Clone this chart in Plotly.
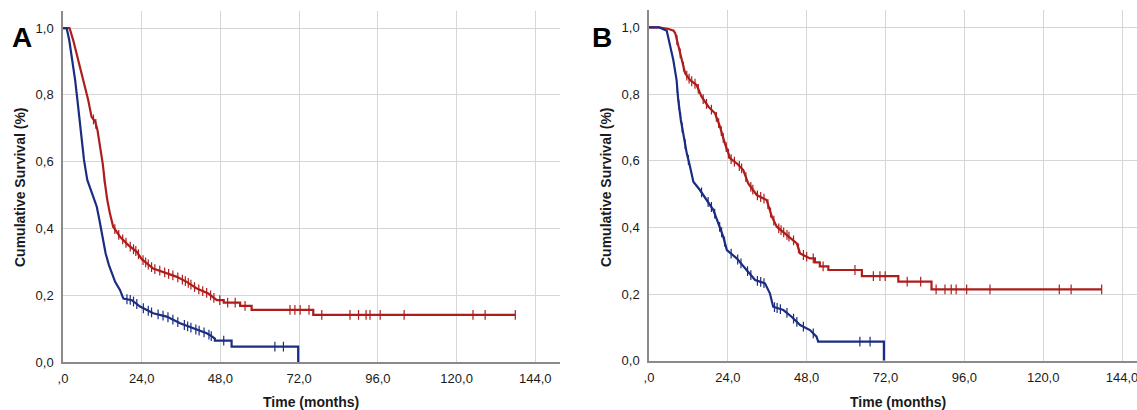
import numpy as np
import plotly.graph_objects as go

# ---------------- Data ----------------
# Panel A: curve vertices (time in months, cumulative survival)
a_red_t = [0, 2.0, 3.1, 4.7, 6.2, 7.7, 8.7, 9.8, 10.5, 11.3, 12.1, 12.8, 13.5, 14.3, 15.3, 17.4,
           19.9, 22.5, 24.0, 27.5, 30.6, 34.7, 37.7, 40.8, 44.3, 46.9, 49.0, 49.0, 54.0, 54.0,
           57.5, 57.5, 76.3, 76.3, 137.9]
a_red_s = [1.0, 1.0, 0.964, 0.904, 0.844, 0.784, 0.734, 0.72, 0.695, 0.645, 0.595, 0.535, 0.485,
           0.445, 0.405, 0.375, 0.35, 0.33, 0.308, 0.28, 0.27, 0.255, 0.24, 0.22, 0.205, 0.185,
           0.185, 0.178, 0.178, 0.168, 0.168, 0.156, 0.156, 0.141, 0.141]
a_red_cens = [9.3, 10.0, 12.6, 15.8, 17.0, 18.2, 19.2, 20.5, 21.5, 22.2, 23.0, 24.4, 25.2, 26.0,
              27.0, 28.0, 29.5, 31.0, 32.2, 33.5, 35.0, 36.4, 37.3, 38.2, 39.0, 40.1, 41.4, 42.6,
              43.8, 45.0, 46.0, 47.8, 50.2, 52.5, 55.5, 69.2, 70.7, 72.3, 75.0, 78.9, 87.5, 90.1,
              92.4, 93.6, 96.7, 104.0, 125.0, 128.7, 137.9]

a_blue_t = [0, 1.1, 1.9, 2.9, 3.7, 4.4, 5.0, 5.6, 6.4, 7.4, 8.9, 10.3, 11.1, 12.0, 13.0, 14.0,
            15.9, 17.4, 18.4, 21.0, 23.5, 27.5, 31.6, 35.7, 39.7, 43.8, 45.5, 46.3, 46.3, 51.4,
            51.4, 71.7, 71.7]
a_blue_s = [1.0, 1.0, 0.964, 0.904, 0.844, 0.784, 0.725, 0.665, 0.605, 0.545, 0.505, 0.465, 0.425,
            0.375, 0.325, 0.29, 0.24, 0.215, 0.19, 0.185, 0.166, 0.146, 0.136, 0.116, 0.1, 0.086,
            0.076, 0.07, 0.064, 0.064, 0.046, 0.046, 0.0]
a_blue_cens = [19.5, 20.5, 21.5, 22.5, 24.5, 26.0, 27.0, 29.0, 30.5, 32.0, 33.5, 35.0, 37.0, 38.0,
               39.0, 40.5, 41.5, 43.0, 44.5, 45.2, 49.0, 64.6, 67.2]

# Panel B
b_red_t = [0, 3.0, 6.0, 7.5, 8.0, 9.0, 10.0, 11.0, 12.5, 14.5, 16.0, 18.1, 20.1, 21.6, 23.1, 24.7,
           26.7, 28.7, 30.2, 32.8, 35.8, 37.4, 38.9, 41.4, 43.5, 45.0, 46.0, 49.0, 50.5, 50.5,
           52.0, 52.0, 54.6, 54.6, 64.8, 64.8, 75.9, 75.9, 86.0, 86.0, 137.8]
b_red_s = [1.0, 1.0, 0.995, 0.99, 0.982, 0.942, 0.902, 0.862, 0.842, 0.827, 0.792, 0.762, 0.742,
           0.702, 0.652, 0.607, 0.592, 0.572, 0.532, 0.497, 0.482, 0.432, 0.402, 0.382, 0.365,
           0.352, 0.322, 0.307, 0.307, 0.295, 0.295, 0.283, 0.283, 0.272, 0.272, 0.254, 0.254,
           0.237, 0.237, 0.214, 0.214]
b_red_cens = [8.5, 9.5, 10.5, 11.5, 12.2, 13.0, 14.0, 15.0, 16.5, 17.5, 19.0, 20.5, 21.2, 22.0,
              22.6, 23.5, 24.2, 25.0, 26.0, 27.5, 28.2, 29.5, 31.0, 31.6, 33.0, 34.0, 35.0, 36.2,
              37.0, 38.0, 39.5, 40.2, 41.0, 42.0, 42.6, 44.0, 45.5, 47.0, 48.0, 50.0, 53.0, 62.7,
              68.3, 70.3, 71.9, 78.6, 82.7, 87.4, 90.1, 92.0, 93.5, 96.7, 103.8, 124.9, 128.5, 137.8]

b_blue_t = [0, 3.0, 5.4, 6.4, 7.4, 8.4, 8.9, 9.7, 10.4, 11.5, 12.5, 13.5, 15.5, 17.6, 19.6, 21.1,
            22.6, 23.7, 26.7, 29.7, 32.3, 35.3, 36.8, 37.8, 40.9, 43.4, 46.0, 49.0, 51.0, 51.5,
            71.5, 71.5]
b_blue_s = [1.0, 1.0, 0.99, 0.942, 0.902, 0.842, 0.782, 0.722, 0.682, 0.622, 0.582, 0.537, 0.512,
            0.482, 0.452, 0.412, 0.372, 0.332, 0.307, 0.272, 0.242, 0.232, 0.202, 0.162, 0.152,
            0.132, 0.107, 0.092, 0.072, 0.057, 0.057, 0.0]
b_blue_cens = [8.6, 9.1, 9.6, 10.1, 11.0, 12.0, 16.0, 18.0, 19.0, 20.0, 21.5, 22.1, 23.0, 25.0,
               27.0, 28.0, 30.0, 31.0, 33.0, 34.0, 35.0, 38.2, 39.0, 40.0, 42.0, 44.0, 45.0, 47.0,
               50.0, 64.2, 67.3]

x_tickvals = [0, 24, 48, 72, 96, 120, 144]
x_ticktext = [",0", "24,0", "48,0", "72,0", "96,0", "120,0", "144,0"]
y_tickvals = [0, 0.2, 0.4, 0.6, 0.8, 1.0]
y_ticktext = ["0,0", "0,2", "0,4", "0,6", "0,8", "1,0"]

RED = "#ae1c1c"
BLUE = "#1b2d82"

W, H = 1137, 410
fig = go.Figure()


def add_curve(t, s, cens, color, xa, ya):
    fig.add_trace(go.Scatter(x=t, y=s, mode="lines", line=dict(color=color, width=2.2),
                             xaxis=xa, yaxis=ya, showlegend=False, hoverinfo="skip"))
    cy = np.interp(np.array(cens, float), np.array(t, float), np.array(s, float))
    fig.add_trace(go.Scatter(x=cens, y=cy, mode="markers", xaxis=xa, yaxis=ya,
                             marker=dict(symbol="line-ns-open", size=7, color=color,
                                         line=dict(width=1.2, color=color)),
                             showlegend=False, hoverinfo="skip"))


add_curve(a_red_t, a_red_s, a_red_cens, RED, "x", "y")
add_curve(a_blue_t, a_blue_s, a_blue_cens, BLUE, "x", "y")
add_curve(b_red_t, b_red_s, b_red_cens, RED, "x2", "y2")
add_curve(b_blue_t, b_blue_s, b_blue_cens, BLUE, "x2", "y2")

tickfont = dict(family="Liberation Sans, Arial, sans-serif", size=13, color="#1a1a1a")
common_x = dict(tickvals=x_tickvals, ticktext=x_ticktext, showgrid=True, gridcolor="#d6d6d6",
                gridwidth=1, zeroline=False, showline=True, linecolor="#8a8a8a", linewidth=1.5,
                ticks="", tickfont=tickfont, ticklabelstandoff=4, automargin=False,
                ticklabeloverflow="allow")
common_y = dict(tickvals=y_tickvals, ticktext=y_ticktext, showgrid=True, gridcolor="#d6d6d6",
                gridwidth=1, zeroline=False, showline=True, linecolor="#8a8a8a", linewidth=1.5,
                ticks="", tickfont=tickfont, ticklabelstandoff=5, automargin=False)

fig.update_layout(
    width=W, height=H, margin=dict(l=0, r=0, t=0, b=0, autoexpand=False),
    paper_bgcolor="white", plot_bgcolor="white",
    xaxis=dict(domain=[63 / W, 560 / W], range=[0, (560 - 63) / 3.28], anchor="y", **common_x),
    yaxis=dict(domain=[(H - 362) / H, (H - 11) / H], range=[0, 1.051], anchor="x", **common_y),
    xaxis2=dict(domain=[649 / W, 1.0], range=[0, (1137 - 649) / 3.285], anchor="y2", **common_x),
    yaxis2=dict(domain=[(H - 360.7) / H, (H - 10) / H], range=[0, 1.052], anchor="x2", **common_y),
)

titlefont = dict(family="Liberation Sans, Arial, sans-serif", size=14, color="#1a1a1a")
ann = [
    dict(text="<b>Time (months)</b>", x=311 / W, y=(H - 402) / H),
    dict(text="<b>Time (months)</b>", x=898 / W, y=(H - 402) / H),
    dict(text="<b>Cumulative Survival (%)</b>", x=20 / W, y=(H - 187) / H, textangle=-90),
    dict(text="<b>Cumulative Survival (%)</b>", x=606 / W, y=(H - 187) / H, textangle=-90),
]
for a in ann:
    fig.add_annotation(xref="paper", yref="paper", showarrow=False, xanchor="center",
                       yanchor="middle", font=titlefont, **a)

letterfont = dict(family="Liberation Sans, Arial, sans-serif", size=28, color="black")
fig.add_annotation(text="<b>A</b>", xref="paper", yref="paper", x=22 / W, y=(H - 38) / H,
                   showarrow=False, xanchor="center", yanchor="middle", font=letterfont)
fig.add_annotation(text="<b>B</b>", xref="paper", yref="paper", x=602 / W, y=(H - 38) / H,
                   showarrow=False, xanchor="center", yanchor="middle", font=letterfont)

fig.write_html("out.html", config={"displayModeBar": False},
               post_script="document.body.style.margin='0px';document.body.style.overflow='hidden';")
